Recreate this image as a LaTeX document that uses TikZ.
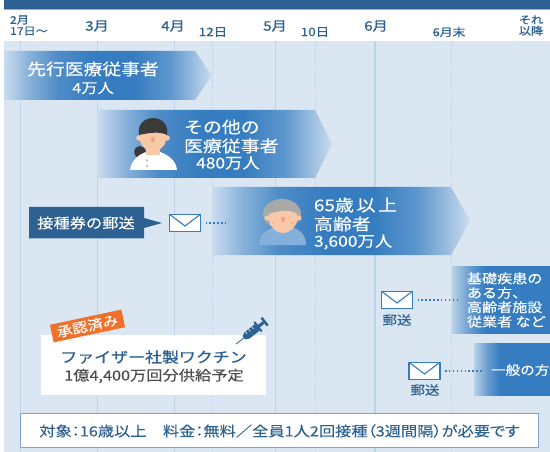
\documentclass[tikz,border=0pt]{standalone}
\usepackage{fontspec}
\setmainfont{Noto Sans CJK JP}
\newfontfamily\jp[FakeStretch=1.16,FakeBold=0.1]{Noto Sans CJK JP}
\newfontfamily\jpb[FakeStretch=1.16,FakeBold=0.8]{Noto Sans CJK JP}
\newfontfamily\jpp[FakeStretch=1.16,FakeBold=0.1,RawFeature=+palt]{Noto Sans CJK JP}
\usetikzlibrary{calc}
\definecolor{navy}{HTML}{2C6191}
\definecolor{pale}{HTML}{DAE7F3}
\definecolor{grid}{HTML}{BCD3E9}
\definecolor{barblue}{HTML}{357CC0}
\definecolor{orangetag}{HTML}{F0702A}
\definecolor{skin}{HTML}{F8C9A8}
\definecolor{hairdark}{HTML}{3A3A3A}
\definecolor{hairgray}{HTML}{A9A9A9}
\definecolor{oldbody}{HTML}{85B0DC}
\definecolor{boxline}{HTML}{7FA5C8}
\pgfdeclarehorizontalshading{barfade}{100bp}{
  color(0bp)=(pale); color(25bp)=(barblue!10!pale); color(31bp)=(barblue!50!pale); color(38bp)=(barblue!85!pale); color(47bp)=(barblue);
  color(56bp)=(barblue); color(65bp)=(barblue!75!pale); color(75bp)=(barblue!10!pale); color(100bp)=(pale)}
\pgfdeclarehorizontalshading{barleft}{100bp}{
  color(0bp)=(pale); color(25bp)=(barblue!20!pale); color(34bp)=(barblue!70!pale); color(42bp)=(barblue); color(100bp)=(barblue)}
\tikzset{
  x=1pt,y=-1pt,
  txt/.style={font=\jp,inner sep=0pt,outer sep=0pt},
  head/.style={txt,text=navy,font=\jpb\fontsize{11.6}{10}\selectfont,align=center},
  headbig/.style={txt,text=navy,font=\jpb\fontsize{13}{13}\selectfont},
  bartext/.style={txt,text=white,align=left},
  month/.style={grid,line width=.9pt},
  halfmonth/.style={grid,line width=.8pt,dash pattern=on 2pt off 1.5pt},
  envelope/.style={draw=barblue,line width=1.1pt,fill=white,minimum width=31pt,minimum height=17.5pt,inner sep=0pt,outer sep=0pt},
  flap/.style={draw=barblue,line width=1.1pt},
  mailline/.style={draw=barblue,line width=1.4pt,dash pattern=on 1.5pt off 2.4pt},
  maillabel/.style={txt,text=navy,font=\jp\fontsize{12.5}{12}\selectfont}
}
\begin{document}
\begin{tikzpicture}
\useasboundingbox (0,0) rectangle (550,452);
\fill[white] (0,0) rectangle (550,452);
\fill[pale] (4,41) rectangle (550,452);
\fill[navy] (4,0) rectangle (550,9);
\fill[navy!50!white] (4,9) rectangle (550,10);
% grid
\foreach \gx in {20.5,97.5,174.5} \draw[month] (\gx,41) -- (\gx,452);
\draw[month] (275,41) -- (275,452);
\draw[grid,line width=1.3pt] (375,41) -- (375,452);
\foreach \gx in {212.5,315,451.5} \draw[halfmonth] (\gx,41) -- (\gx,452);
% header
\node[head,font=\jpb\fontsize{10.5}{11}\selectfont,align=left,anchor=west] (feb) at (10,25.5) {2月\\17日〜};
\node[headbig] (mar) at (97,26) {3月};
\node[headbig] (apr) at (173,26) {4月};
\node[head] (d12) at (213,32) {12日};
\node[headbig] (may) at (275,26) {5月};
\node[head] (d10) at (315,32) {10日};
\node[headbig] (jun) at (376,26) {6月};
\node[head,font=\jpb\fontsize{11}{10}\selectfont] (jend) at (449,32) {6月末};
\node[head,font=\jpb\fontsize{10.5}{11}\selectfont] (later) at (531,25.5) {それ\\以降};
% bars
\shade[shading=barfade] (4,51) -- (195,51) -- (212,75.5) -- (195,100) -- (4,100) -- cycle;
\shade[shading=barfade] (97,110) -- (315,110) -- (332,144) -- (315,178) -- (97,178) -- cycle;
\shade[shading=barfade] (212,187) -- (451,187) -- (470,221) -- (451,255) -- (212,255) -- cycle;
\shade[shading=barleft] (452,266) rectangle (550,333);
\shade[shading=barleft] (474,343) rectangle (550,395);
% bar text
\node[bartext,align=center,font=\jp\fontsize{16.2}{18}\selectfont] (first) at (93,69) {先行医療従事者};
\node[bartext,font=\jp\fontsize{14}{14}\selectfont] (firstn) at (93,88) {4万人};
\node[bartext,anchor=west,font=\jp\fontsize{16.3}{19}\selectfont] (other) at (184,136.5) {その他の\\医療従事者};
\node[bartext,font=\jp\fontsize{15}{15}\selectfont] (othern) at (228,163) {480万人};
\node[bartext,anchor=west,font=\jp\fontsize{16.3}{19}\selectfont] (old) at (314,214.5) {65歳\,以\,上\\高齢者};
\node[bartext,anchor=west,font=\jp\fontsize{15}{15}\selectfont] (oldn) at (314,242) {3,600万人};
\node[bartext,anchor=west,font=\jp\fontsize{13}{14.4}\selectfont] (basic) at (467,300) {基礎疾患の\\ある方、\\高齢者施設\\従業者 など};
\node[bartext,anchor=west,font=\jp\fontsize{12.6}{14}\selectfont] (general) at (491,370) {一般の方};
% nurse
\begin{scope}
\fill[hairdark] (140,152) circle (5.8);
\fill[white] (130,170) .. controls (131,160) and (140,154) .. (146,152) -- (160,152) .. controls (168,155) and (176,160) .. (177,170) -- cycle;
\fill[skin] (146,146) rectangle (160,155);
\fill[skin] (139,138) circle (2.8);
\fill[skin] (167,138) circle (2.8);
\fill[skin] (140,130) -- (166,130) -- (166,140) .. controls (165,148) and (158,151) .. (153,151) .. controls (148,151) and (141,148) .. (140,140) -- cycle;
\fill[hairdark] (139,135) .. controls (137,124) and (145,118) .. (153,118) .. controls (161,118) and (169,124) .. (167,135) .. controls (160,131) and (148,133) .. (139,135) -- cycle;
\fill[skin!80!red] (151.5,142) -- (154.5,142) -- (155,137) -- (151,137) -- cycle;
\fill[black!25] (147,160.5) circle (1.4) (147,166) circle (1.4);
\end{scope}
% elder
\begin{scope}
\fill[oldbody] (259,245) .. controls (259,234) and (268,229) .. (275,227) -- (291,227) .. controls (299,229) and (306,234) .. (306,245) -- cycle;
\fill[hairgray] (282,214) ellipse (19 and 15);
\fill[skin] (267,218) circle (2.6) (299,218) circle (2.6);
\fill[skin] (269,214) .. controls (274,212) and (290,208) .. (297,214) -- (297,220) .. controls (296,228) and (289,233) .. (283,233) .. controls (277,233) and (270,228) .. (269,220) -- cycle;
\draw[skin!75!red,line width=.5pt] (272,222) -- (275,224) (294,222) -- (291,224);
\fill[skin!80!red] (281.5,222) -- (284.5,222) -- (285,217) -- (281,217) -- cycle;
\end{scope}
% callout
\fill[navy] (29,207) -- (144,207) -- (144,218) -- (162,223) -- (144,228) -- (144,238.5) -- (29,238.5) -- cycle;
\node[txt,text=white,font=\jp\fontsize{14}{14}\selectfont] (notice) at (86,223) {接種券の郵送};
% envelopes
\node[envelope] (env1) at (185,223) {};
\draw[flap] (env1.north west) -- ($(env1.center)+(0,3)$) -- (env1.north east);
\coordinate (d1) at (226,223);
\draw[mailline] ($(env1.east)+(5,0)$) -- (d1);
\node[envelope] (env2) at (397,300) {};
\draw[flap] (env2.north west) -- ($(env2.center)+(0,3)$) -- (env2.north east);
\coordinate (d2) at (458,300);
\draw[mailline] ($(env2.east)+(5,0)$) -- (d2);
\node[maillabel] (m2) at (397,320) {郵送};
\node[envelope] (env3) at (424.5,371) {};
\draw[flap] (env3.north west) -- ($(env3.center)+(0,3)$) -- (env3.north east);
\coordinate (d3) at (484,371);
\draw[mailline] ($(env3.east)+(5,0)$) -- (d3);
\node[maillabel] (m3) at (425,390) {郵送};
% vaccine box
\fill[white] (41,335) rectangle (266,395);
\node[txt,text=navy,font=\jpb\fontsize{14.6}{17}\selectfont] (pfizer) at (153.5,357) {ファイザー社製ワクチン};
\node[txt,text=black!70,font=\jp\fontsize{14}{14}\selectfont] (supply) at (154,376) {1億4,400万回分供給予定};
\node[fill=orangetag,text=white,rotate=12,font=\jp\fontsize{13.4}{13}\selectfont,minimum width=73pt,minimum height=18pt,inner sep=0pt] (tag) at (87.5,326) {承認済み};
% syringe
\begin{scope}[shift={(236,344)},rotate=38]
\draw[navy,line width=.8pt] (0,0) -- (10,0);
\fill[navy] (10,-2) -- (14,-4) -- (27,-4) -- (27,4) -- (14,4) -- (10,2) -- cycle;
\fill[navy] (27,-1.5) rectangle (35,1.5);
\fill[navy] (27,-6) rectangle (29,6);
\fill[navy] (35,-5) rectangle (37.5,5);
\foreach \sx in {15,19,23} \draw[white,line width=.6pt] (\sx,-4) -- (\sx,-1);
\end{scope}
% footer
\node[draw=boxline,line width=.9pt,fill=white,minimum width=518pt,minimum height=34pt,inner sep=0pt] (foot) at (279,430) {};
\node[txt,text=navy,font=\jpp\fontsize{14}{15}\selectfont] (foottext) at (279.5,431) {対象：16歳以上　料金：無料／全員1人2回接種（3週間隔）が必要です};
\end{tikzpicture}
\end{document}
